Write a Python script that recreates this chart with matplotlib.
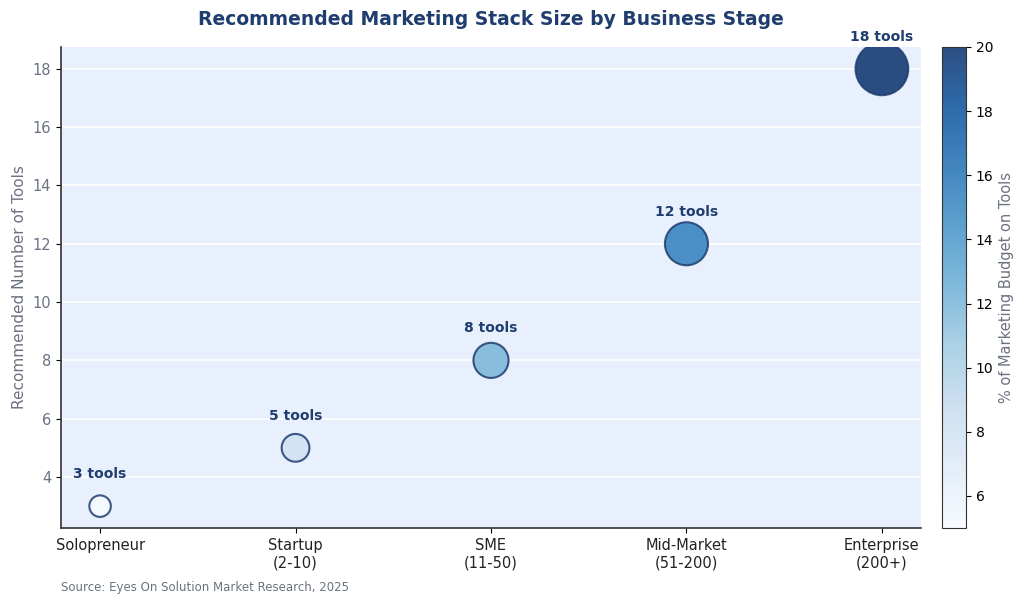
import numpy as np
import matplotlib.pyplot as plt

# stages and values
stages = ["Solopreneur", "Startup\n(2-10)", "SME\n(11-50)", "Mid-Market\n(51-200)", "Enterprise\n(200+)"]
tools = [3, 5, 8, 12, 18]
budget_pct = [5, 8, 12, 15.5, 20]

navy = "#1f3d6e"
grey = "#6b7280"

fig = plt.figure(figsize=(10.24, 6.05), dpi=100)
ax = fig.add_axes([61 / 1024, 1 - 528 / 605, 860 / 1024, 481 / 605])
cax = fig.add_axes([942 / 1024, 1 - 528 / 605, 24 / 1024, 481 / 605])

ax.set_facecolor("#e8f0fe")
x = np.arange(len(stages))
sc = ax.scatter(x, tools, s=np.array(tools) * 80, c=budget_pct, cmap="Blues",
                vmin=5, vmax=20, alpha=0.85, edgecolors=navy, linewidths=1.5, zorder=3)

for xi, t in zip(x, tools):
    ax.annotate(f"{t} tools", (xi, t), xytext=(0, 23), textcoords="offset points",
                ha="center", va="center", fontsize=10, fontweight="bold", color=navy)

ax.set_xlim(-0.2, 4.2)
ax.set_ylim(2.25, 18.75)
ax.set_xticks(x)
ax.set_xticklabels(stages, fontsize=10.5, color="#222222")
ax.set_yticks([4, 6, 8, 10, 12, 14, 16, 18])
ax.tick_params(axis="y", labelsize=10.5, labelcolor=grey)
ax.yaxis.grid(True, color="white", linewidth=1.2, zorder=0)
ax.set_axisbelow(True)
for side in ["top", "right"]:
    ax.spines[side].set_visible(False)
for side in ["left", "bottom"]:
    ax.spines[side].set_color("#333333")
    ax.spines[side].set_linewidth(1.2)
ax.set_ylabel("Recommended Number of Tools", fontsize=11, color=grey)
ax.set_title("Recommended Marketing Stack Size by Business Stage",
             fontsize=13.5, fontweight="bold", color=navy, pad=16)

cb = fig.colorbar(sc, cax=cax)
cb.set_label("% of Marketing Budget on Tools", fontsize=10.5, color=grey)
cb.ax.tick_params(labelsize=10)
cb.outline.set_edgecolor("#333333")

fig.text(61 / 1024, 1 - 587 / 605, "Source: Eyes On Solution Market Research, 2025",
         ha="left", va="center", fontsize=8.5, color=grey)

fig.savefig("out.png", dpi=100)
